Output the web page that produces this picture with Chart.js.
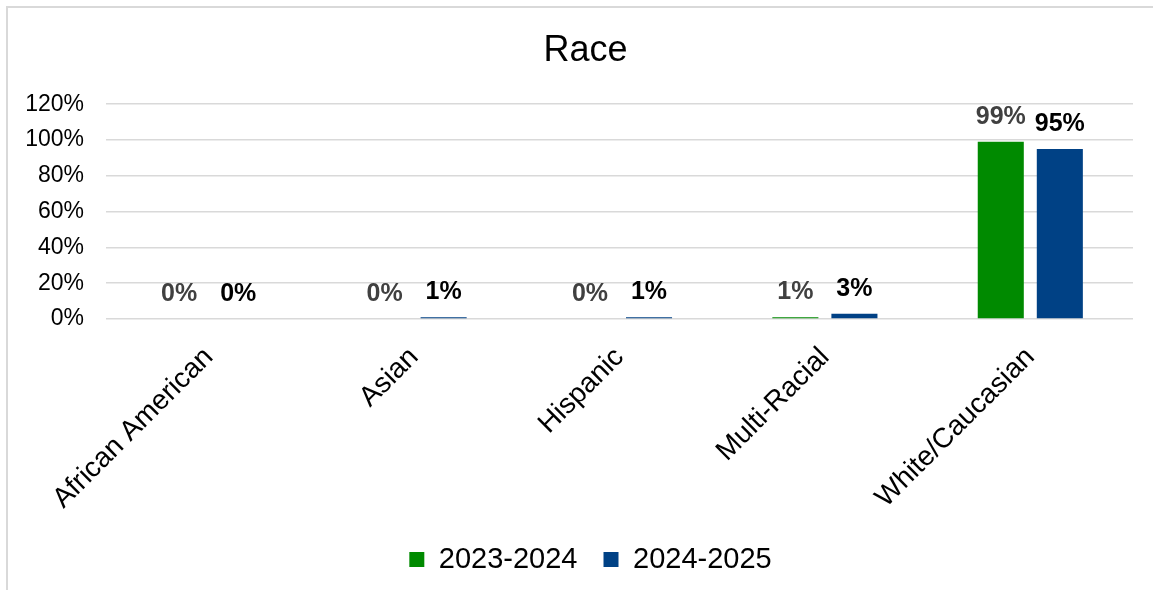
<!DOCTYPE html>
<html>
<head>
<meta charset="utf-8">
<title>Race</title>
<script src="https://cdn.jsdelivr.net/npm/chart.js@4/dist/chart.umd.min.js"></script>
<style>
  html, body { margin: 0; padding: 0; background: #fff; }
  #wrap { position: relative; width: 1153px; height: 590px; overflow: hidden; }
  #frame {
    position: absolute; left: 6px; top: 6px; width: 1200px; height: 640px;
    border-left: 2px solid #d9d9d9; border-top: 2px solid #d9d9d9;
    pointer-events: none;
  }
  canvas { position: absolute; left: 0; top: 0; }
</style>
</head>
<body>
<div id="wrap">
  <div id="frame"></div>
  <canvas id="raceChart" width="1153" height="590"></canvas>
</div>
<script>
/* ====== DATA ====== */
const categories = ["African American", "Asian", "Hispanic", "Multi-Racial", "White/Caucasian"];
const seriesNames = ["2023-2024", "2024-2025"];
const values2324 = [0, 0, 0, 1, 99];
const values2425 = [0, 1, 1, 3, 95];
const yTicks = [0, 20, 40, 60, 80, 100, 120];

const FONT = "'Liberation Sans', Arial, sans-serif";

/* ====== value labels above the bars ====== */
const valueLabels = {
  id: "valueLabels",
  afterDatasetsDraw(chart) {
    const ctx = chart.ctx;
    ctx.save();
    ctx.font = "bold 25px " + FONT;
    ctx.textAlign = "center";
    ctx.textBaseline = "middle";
    chart.data.datasets.forEach((ds, i) => {
      ctx.fillStyle = i === 0 ? "#404040" : "#000000";
      chart.getDatasetMeta(i).data.forEach((bar, j) => {
        ctx.fillText(ds.data[j] + "%", bar.x, bar.y - 25);
      });
    });
    ctx.restore();
  }
};

// title and legend sit a bit right of the plot centre in the original
const shiftBoxes = {
  id: "shiftBoxes",
  afterLayout(chart) {
    const t = chart.titleBlock, l = chart.legend;
    if (t) { t.left += 14; t.right += 14; }
    if (l) { l.left += 19; l.right += 19; }
  }
};

const ctx = document.getElementById("raceChart").getContext("2d");

new Chart(ctx, {
  type: "bar",
  data: {
    labels: categories,
    datasets: [
      { label: seriesNames[0], data: values2324, backgroundColor: "#008A00",
        categoryPercentage: 0.575, barPercentage: 0.78 },
      { label: seriesNames[1], data: values2425, backgroundColor: "#004185",
        categoryPercentage: 0.575, barPercentage: 0.78 }
    ]
  },
  options: {
    responsive: false,
    animation: false,
    layout: { padding: { left: 10, right: 20, top: 0, bottom: 6 } },
    plugins: {
      title: {
        display: true,
        text: "Race",
        color: "#000",
        font: { family: FONT, size: 36, weight: "normal" },
        padding: { top: 29, bottom: 32 }
      },
      legend: {
        position: "bottom",
        labels: {
          color: "#000",
          font: { family: FONT, size: 29 },
          boxWidth: 15,
          boxHeight: 15,
          padding: 26
        }
      },
      tooltip: { enabled: false }
    },
    scales: {
      x: {
        grid: { display: false },
        border: { display: false },
        ticks: {
          color: "#000",
          font: { family: FONT, size: 28 },
          maxRotation: 45,
          minRotation: 45,
          padding: 14
        },
        afterFit: s => { s.height = 200; }
      },
      y: {
        min: 0,
        max: 120,
        afterBuildTicks: s => { s.ticks = yTicks.map(v => ({ value: v })); },
        grid: { color: "#d9d9d9", lineWidth: 1.5, drawTicks: false },
        border: { display: false },
        ticks: {
          color: "#000",
          font: { family: FONT, size: 23 },
          padding: 22,
          callback: v => v + "%"
        },
        afterFit: s => { s.width = 96; }
      }
    }
  },
  plugins: [valueLabels, shiftBoxes]
});
</script>
</body>
</html>
